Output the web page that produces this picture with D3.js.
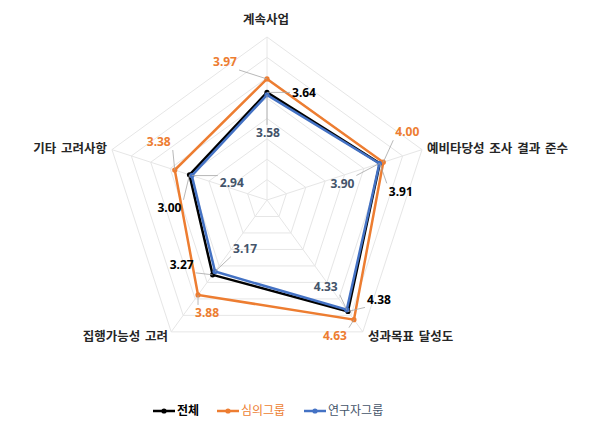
<!DOCTYPE html>
<html><head><meta charset="utf-8">
<script src="https://cdn.jsdelivr.net/npm/d3@7"></script>
<style>body{margin:0;background:#fff}svg{display:block}</style>
</head><body>
<svg id="c" width="605" height="441"></svg>
<script>
const categories = ["계속사업", "예비타당성 조사 결과 준수", "성과목표 달성도", "집행가능성 고려", "기타 고려사항"];
const seriesNames = ["전체", "심의그룹", "연구자그룹"];
const total = [3.64, 3.91, 4.38, 3.27, 3.00];
const council = [3.97, 4.00, 4.63, 3.88, 3.38];
const researcher = [3.58, 3.90, 4.33, 3.17, 2.94];
const gridTicks = [1.5, 2, 2.5, 3, 3.5, 4, 4.5, 5];

// layout / style (not data)
const cx = 267, cy = 200, R = 163;
const colors = ["#000000", "#ED7D31", "#4472C4"];
const labelColors = ["#000000", "#ED7D31", "#44546A"];
const labelOffsets = [
  [[37,0],[21,28],[31,-12],[-31,-10],[-20,33]],
  [[-42,-17],[24,-30],[-19,16],[9,18],[-16,-28]],
  [[1,38],[-37,20],[-21,-23],[30,-23],[40,7]]
];
const catPos = [[266,20,"middle"],[427,149,"start"],[368,337,"start"],[168,337,"end"],[107,149,"end"]];

const svg = d3.select("#c");
const r = d3.scaleLinear().domain([1,5]).range([0,R]);
const ang = d3.scaleLinear().domain([0, categories.length]).range([0, 2*Math.PI]);
const pt = (v,i) => [cx + r(v)*Math.sin(ang(i)), cy - r(v)*Math.cos(ang(i))];

const g = svg.append("g");
// grid rings
gridTicks.forEach(t => {
  g.append("polygon")
    .attr("points", categories.map((c,i)=>pt(t,i).join(",")).join(" "))
    .attr("fill","none").attr("stroke","#E6E6E6").attr("stroke-width",1);
});
// spokes
categories.forEach((c,i)=>{
  const p = pt(5,i);
  g.append("line").attr("x1",cx).attr("y1",cy).attr("x2",p[0]).attr("y2",p[1])
    .attr("stroke","#E6E6E6").attr("stroke-width",1);
});

const data = [total, council, researcher];
const line = d3.line().curve(d3.curveLinearClosed);
data.forEach((vals, s) => {
  const pts = vals.map((v,i)=>pt(v,i));
  g.append("path").attr("d", line(pts)).attr("fill","none")
    .attr("stroke", colors[s]).attr("stroke-width", 2.5).attr("stroke-linejoin","miter");
  g.selectAll(null).data(pts).enter().append("circle")
    .attr("cx",d=>d[0]).attr("cy",d=>d[1]).attr("r",2.6).attr("fill",colors[s]);
});

// data labels with leader lines
const font = "'Noto Sans','Noto Sans CJK KR',sans-serif";
data.forEach((vals, s) => {
  vals.forEach((v,i)=>{
    const p = pt(v,i);
    const [dx,dy] = labelOffsets[s][i];
    const lx = p[0]+dx, ly = p[1]+dy;
    const hw = 14, hh = 8;
    const ex = Math.max(lx-hw, Math.min(p[0], lx+hw));
    const ey = Math.max(ly-hh, Math.min(p[1], ly+hh));
    const dist = Math.hypot(ex-p[0], ey-p[1]);
    if (dist > 6) {
      g.append("line").attr("x1",ex).attr("y1",ey).attr("x2",p[0]).attr("y2",p[1])
        .attr("stroke","#A6A6A6").attr("stroke-width",0.8);
    }
    g.append("text").attr("x",lx).attr("y",ly).attr("dy","0.35em")
      .attr("text-anchor","middle").attr("font-family",font)
      .attr("font-size",12).attr("font-weight","bold")
      .attr("fill",labelColors[s]).text(d3.format(".2f")(v));
  });
});

// category labels
categories.forEach((c,i)=>{
  const [x,y,a] = catPos[i];
  svg.append("text").attr("x",x).attr("y",y).attr("dy","0.35em").attr("text-anchor",a)
    .attr("font-family","'Noto Sans CJK KR',sans-serif").attr("font-size",12.5)
    .attr("word-spacing","2px")
    .attr("font-weight","bold").attr("fill","#262626").text(c);
});

// legend
const legX = [153, 217, 304];
seriesNames.forEach((n,s)=>{
  const lg = svg.append("g").attr("transform",`translate(${legX[s]},411)`);
  lg.append("line").attr("x1",0).attr("x2",22).attr("y1",0).attr("y2",0)
    .attr("stroke",colors[s]).attr("stroke-width",2.5);
  lg.append("circle").attr("cx",11).attr("cy",0).attr("r",2.6).attr("fill",colors[s]);
  lg.append("text").attr("x",24).attr("y",0).attr("dy","0.35em")
    .attr("font-family","'Noto Sans CJK KR',sans-serif").attr("font-size",12)
    .attr("font-weight", s===0 ? "bold" : "normal")
    .attr("fill",labelColors[s]).text(n);
});
</script>
</body></html>
